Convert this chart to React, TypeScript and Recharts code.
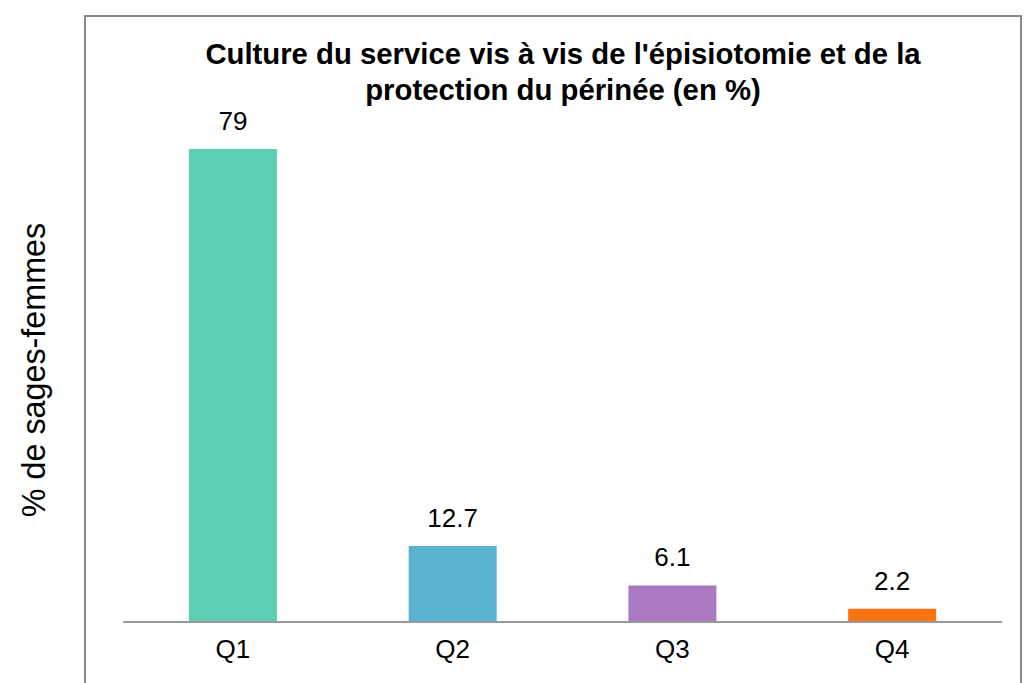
import { BarChart, Bar, XAxis, YAxis, Cell, LabelList } from 'recharts';

const categories = ['Q1', 'Q2', 'Q3', 'Q4'];
const values = [79, 12.7, 6.1, 2.2];
const colors = ['#5BCFB5', '#5AB1D0', '#AA79C1', '#FF7311'];

const titleLines = [
    "Culture du service vis à vis de l'épisiotomie et de la",
    'protection du périnée (en %)',
];
const yLabel = '% de sages-femmes';

const font = '"Liberation Sans", Arial, sans-serif';

export default function App() {
    const data = categories.map((q, i) => ({ q, value: values[i] }));

    return (
        <div style={{ position: 'absolute', left: 0, top: 0, width: 1029, height: 683, overflow: 'hidden', background: '#fff', fontFamily: font }}>
            <div style={{ position: 'absolute', left: 84, top: 15, width: 934, height: 700, border: '2px solid #8a8a8a' }} />
            <div style={{ position: 'absolute', left: 96, top: 36, width: 934, textAlign: 'center', fontWeight: 'bold', fontSize: 29.3, lineHeight: '36px', color: '#000' }}>
                {titleLines.map((t) => (
                    <div key={t}>{t}</div>
                ))}
            </div>
            <div style={{ position: 'absolute', left: 34, top: 370, transform: 'translate(-50%, -50%) rotate(-90deg)', whiteSpace: 'nowrap', fontSize: 32.3, color: '#000' }}>
                {yLabel}
            </div>
            <div style={{ position: 'absolute', left: 0, top: 0 }}>
                <BarChart width={1029} height={683} data={data} margin={{ top: 143, right: 27, bottom: 21, left: 123 }} barCategoryGap="30%">
                    <XAxis
                        dataKey="q"
                        height={40}
                        tickLine={false}
                        axisLine={{ stroke: '#999', strokeWidth: 2 }}
                        tick={{ fill: '#000', fontSize: 26, fontFamily: font, dy: 10 }}
                    />
                    <YAxis hide domain={[0, 80]} />
                    <Bar dataKey="value" isAnimationActive={false}>
                        {data.map((d, i) => (
                            <Cell key={d.q} fill={colors[i]} />
                        ))}
                        <LabelList dataKey="value" position="top" offset={19} fill="#000" fontSize={26} fontFamily={font} />
                    </Bar>
                </BarChart>
            </div>
        </div>
    );
}
